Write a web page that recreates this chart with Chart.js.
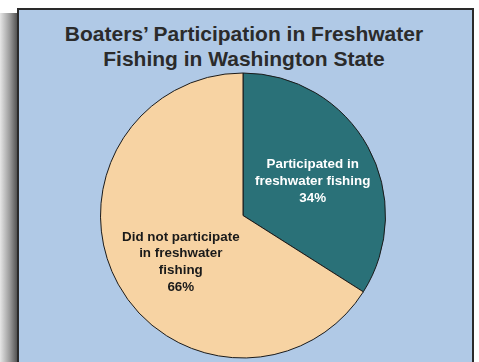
<!DOCTYPE html>
<html>
<head>
<meta charset="utf-8">
<script src="https://cdn.jsdelivr.net/npm/chart.js@4"></script>
<style>
  html, body { margin: 0; padding: 0; background: #fff; }
  body { width: 479px; height: 362px; position: relative; overflow: hidden; }
  .shadow {
    position: absolute; left: 0; top: 13px; width: 18px; height: 360px;
    background: linear-gradient(to right, #e6e6e6, #9a9a9a 55%, #4a4a4a);
  }
  .panel {
    position: absolute; left: 17px; top: 8px; width: 457px; height: 360px;
    background: #b0c9e6; border: 2px solid #2a2a2a; box-sizing: border-box;
  }
  .title {
    position: absolute; left: 0; top: 21px; width: 488px; text-align: center;
    font: bold 21px "Liberation Sans", Arial, sans-serif; color: #2b2b2b; line-height: 25px;
  }
  canvas { position: absolute; left: 0; top: 0; }
</style>
</head>
<body>
<div class="shadow"></div>
<div class="panel"></div>
<div class="title">Boaters’ Participation in Freshwater<br>Fishing in Washington State</div>
<canvas id="pie" width="479" height="362"></canvas>
<script>
// Data
const categories = ['Participated in freshwater fishing', 'Did not participate in freshwater fishing'];
const shares = [34, 66];
const labelLines = [
  ['Participated in', 'freshwater fishing'],
  ['Did not participate', 'in freshwater', 'fishing']
];

// Slice labels drawn inside each arc
const sliceLabels = {
  id: 'sliceLabels',
  afterDatasetsDraw(chart) {
    const ctx = chart.ctx;
    const meta = chart.getDatasetMeta(0);
    const colors = ['#ffffff', '#1a1a1a'];
    const nudge = [2.6, -8];   // degrees
    ctx.save();
    ctx.font = 'bold 13.4px "Liberation Sans", Arial, sans-serif';
    ctx.textAlign = 'center';
    ctx.textBaseline = 'middle';
    meta.data.forEach((arc, i) => {
      const p = arc.getProps(['x', 'y', 'startAngle', 'endAngle', 'outerRadius'], true);
      const mid = (p.startAngle + p.endAngle) / 2 + nudge[i] * Math.PI / 180;
      const r = p.outerRadius * 0.545;
      const cx = p.x + Math.cos(mid) * r;
      const cy = p.y + Math.sin(mid) * r;
      const lines = labelLines[i].concat([shares[i] + '%']);
      const lh = 16.7;
      ctx.fillStyle = colors[i];
      lines.forEach((t, j) => {
        ctx.fillText(t, cx, cy + (j - (lines.length - 1) / 2) * lh);
      });
    });
    ctx.restore();
  }
};

new Chart(document.getElementById('pie').getContext('2d'), {
  type: 'pie',
  data: {
    labels: categories,
    datasets: [{
      data: shares,
      backgroundColor: ['#2a7178', '#f7d3a3'],
      borderColor: '#1a1a1a',
      borderWidth: 1,
      hoverOffset: 0
    }]
  },
  options: {
    responsive: false,
    animation: false,
    layout: { padding: { top: 72, bottom: 3, left: 100, right: 93 } },
    plugins: {
      legend: { display: false },
      tooltip: { enabled: false },
      title: { display: false }
    }
  },
  plugins: [sliceLabels]
});
</script>
</body>
</html>
